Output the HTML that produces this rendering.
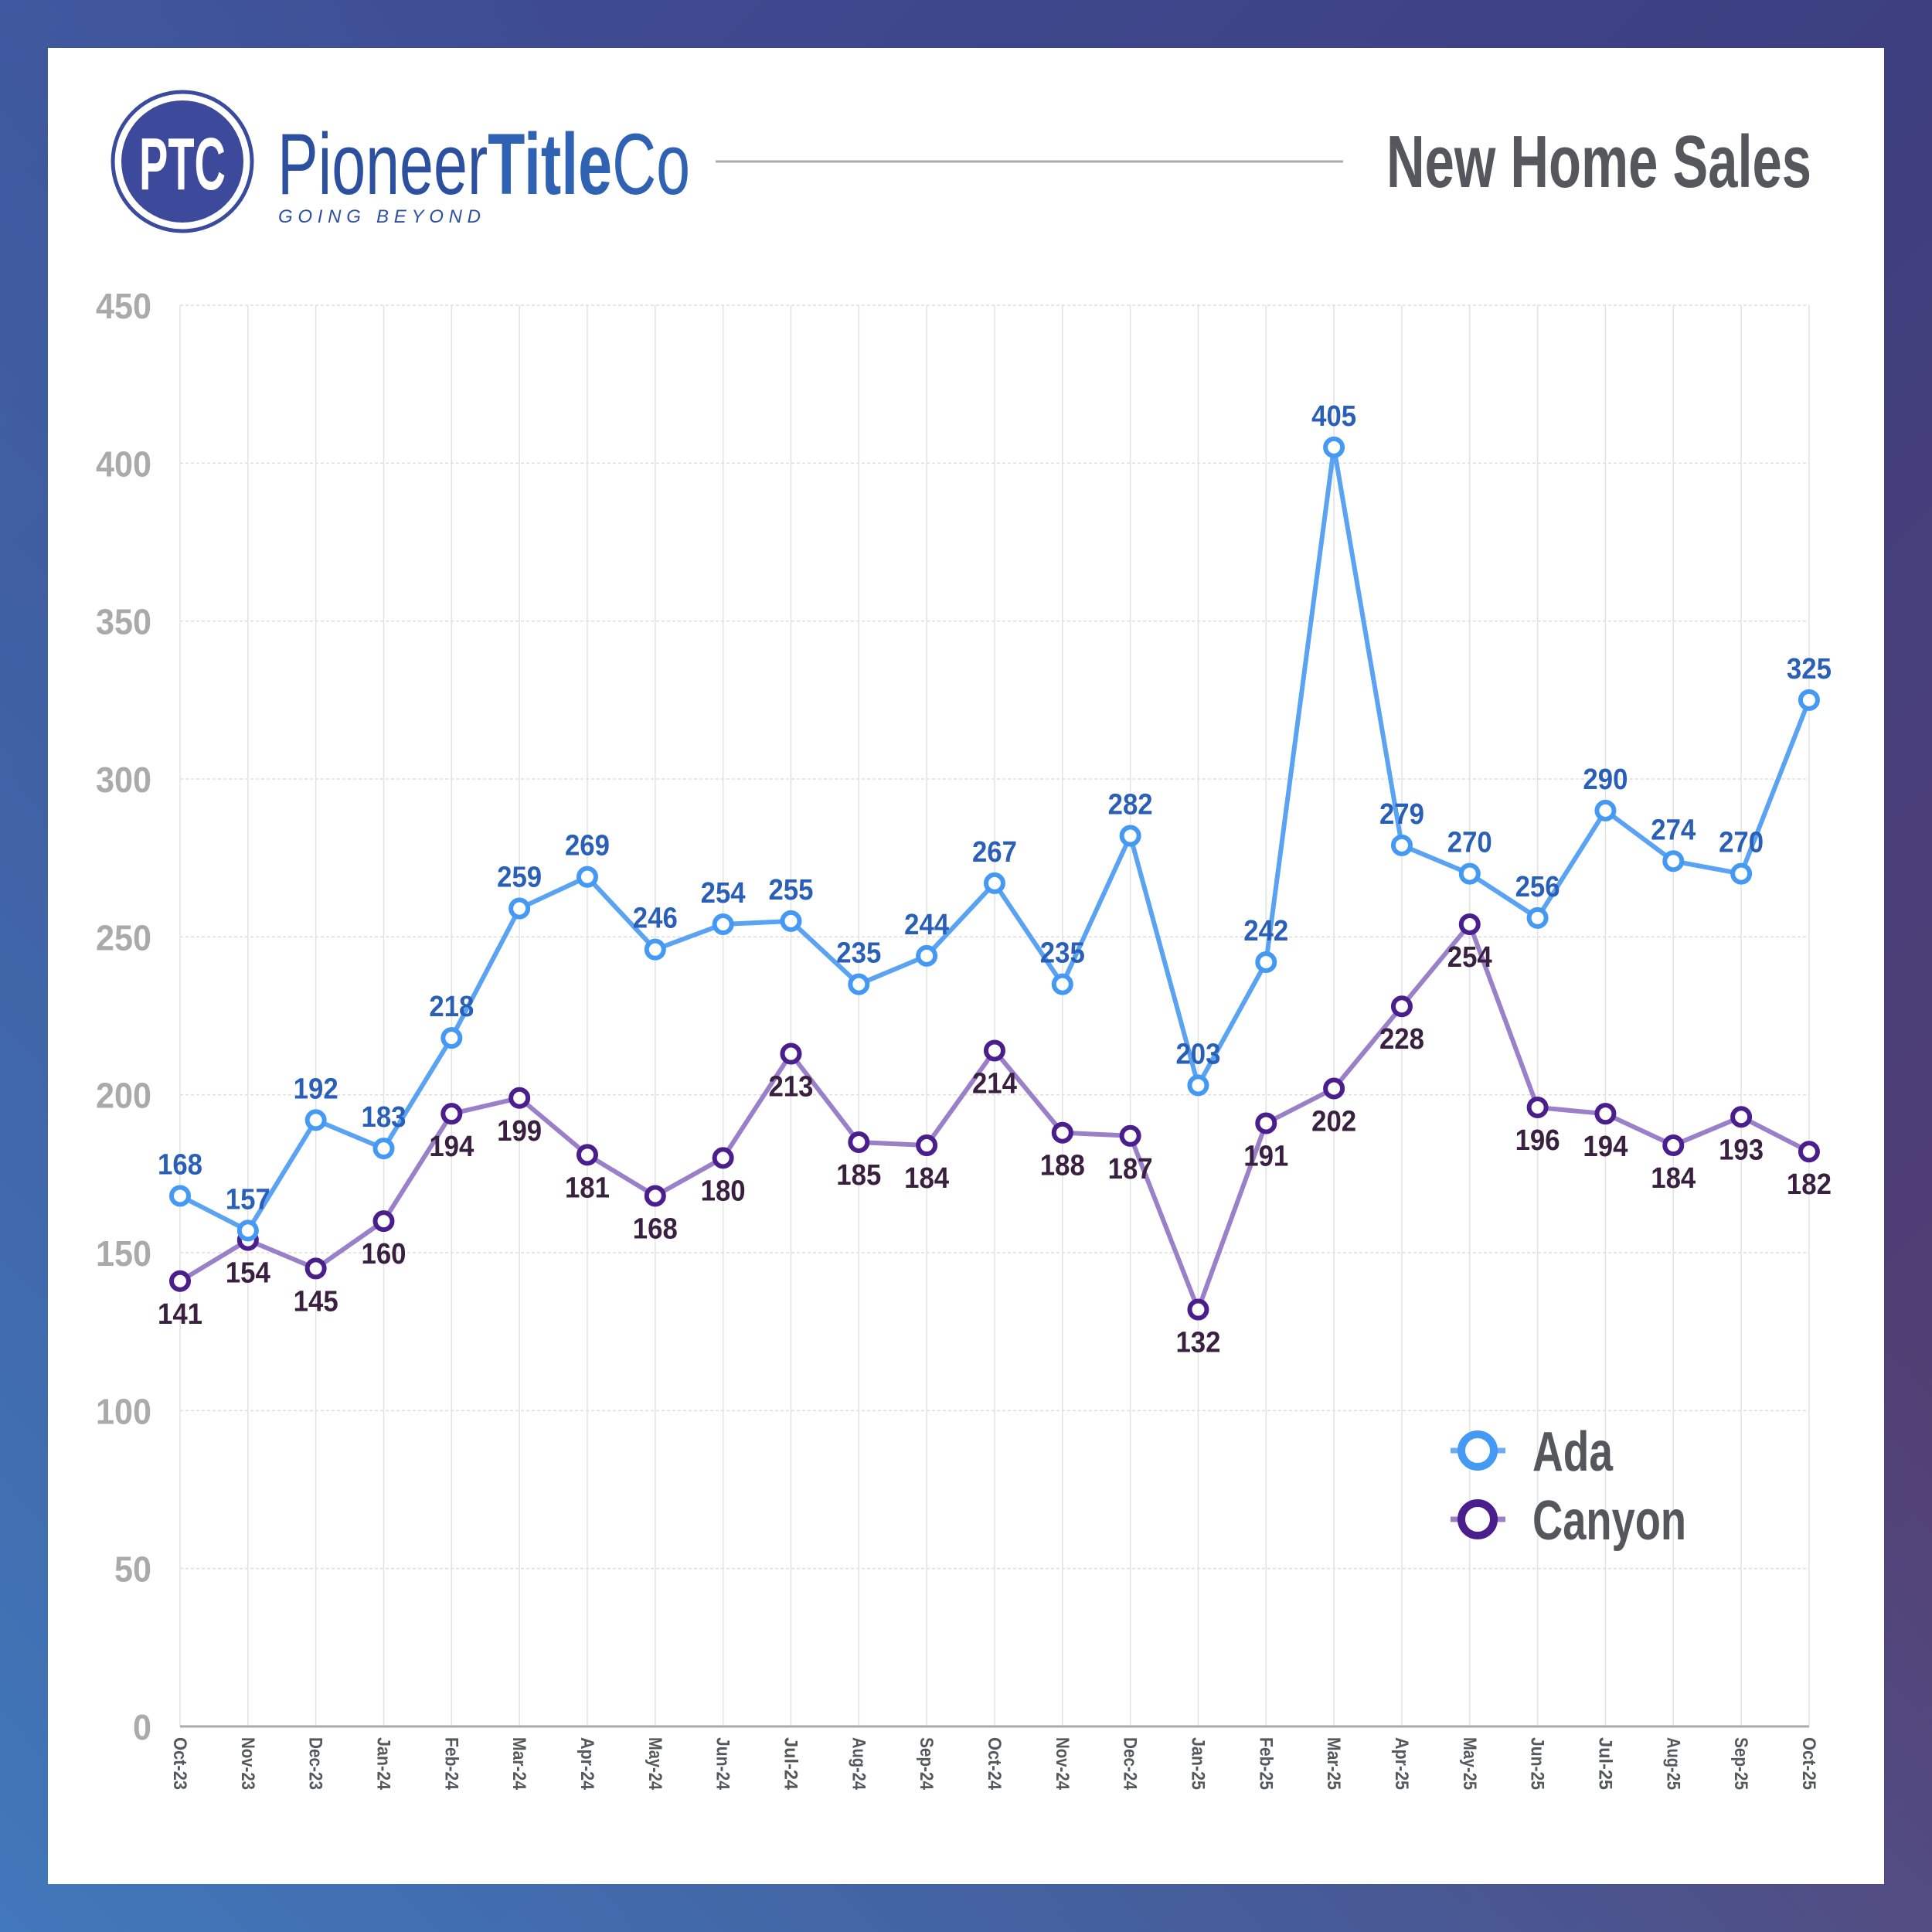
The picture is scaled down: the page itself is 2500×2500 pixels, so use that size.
<!DOCTYPE html>
<html><head><meta charset="utf-8"><style>
html,body{margin:0;padding:0;width:2500px;height:2500px;overflow:hidden}
body{background:linear-gradient(135deg,#3f4f98 0%,#3d3f80 50%,#5a3e6e 100%)}
#bg2{position:absolute;left:0;top:0;width:2500px;height:2500px;background:linear-gradient(45deg,#4178bb 0%,rgba(64,110,175,0.6) 35%,rgba(60,60,120,0) 65%)}
svg{position:absolute;left:0;top:0}
</style></head><body><div id="bg2"></div>
<svg id="s" width="2500" height="2500" xmlns="http://www.w3.org/2000/svg" font-family="'Liberation Sans',sans-serif">
<rect x="62" y="62" width="2376" height="2376" fill="#fff"/>
<circle cx="236" cy="209" r="90" fill="none" stroke="#3a4a9c" stroke-width="5"/>
<circle cx="236" cy="209" r="79" fill="#3d4a9c"/>
<text x="180" y="245" font-size="96" font-weight="bold" fill="#fff" textLength="112" lengthAdjust="spacingAndGlyphs">PTC</text>
<text x="359" y="251" font-size="112" fill="#2c4fa0" textLength="534" lengthAdjust="spacingAndGlyphs">Pioneer<tspan font-weight="bold" fill="#2f62b2">Title</tspan><tspan fill="#2f62b2">Co</tspan></text>
<text x="360" y="288" font-size="24" font-style="italic" fill="#2c4fa0" textLength="262" lengthAdjust="spacing">GOING BEYOND</text>
<line x1="926" y1="209" x2="1738" y2="209" stroke="#aaa" stroke-width="3"/>
<text x="1794" y="242" font-size="96" font-weight="bold" fill="#55575c" textLength="550" lengthAdjust="spacingAndGlyphs">New Home Sales</text>
<g id="g"></g>
</svg>
<script>
const ada=[168,157,192,183,218,259,269,246,254,255,235,244,267,235,282,203,242,405,279,270,256,290,274,270,325];
const can=[141,154,145,160,194,199,181,168,180,213,185,184,214,188,187,132,191,202,228,254,196,194,184,193,182];
const mon=["Oct-23","Nov-23","Dec-23","Jan-24","Feb-24","Mar-24","Apr-24","May-24","Jun-24","Jul-24","Aug-24","Sep-24","Oct-24","Nov-24","Dec-24","Jan-25","Feb-25","Mar-25","Apr-25","May-25","Jun-25","Jul-25","Aug-25","Sep-25","Oct-25"];
const X=i=>233+i*87.83, Y=v=>2234-v*(2234-395)/450;
let h="";
for(let k=1;k<=9;k++){const y=Y(k*50);h+=`<line x1="233" y1="${y}" x2="2341" y2="${y}" stroke="#ddd" stroke-width="1.5" stroke-dasharray="4,3"/>`;}
for(let i=0;i<25;i++){h+=`<line x1="${X(i)}" y1="395" x2="${X(i)}" y2="2234" stroke="#e2e2e2" stroke-width="1.5"/>`;
h+=`<text transform="translate(${X(i)-8},2248) rotate(90)" font-size="24" font-weight="bold" fill="#55575c" textLength="68" lengthAdjust="spacingAndGlyphs">${mon[i]}</text>`;}
h+=`<line x1="233" y1="2234" x2="2341" y2="2234" stroke="#aaa" stroke-width="3"/>`;
for(let k=0;k<=9;k++){const t=String(k*50);h+=`<text x="196" y="${Y(k*50)+17}" font-size="46" font-weight="bold" fill="#aaa" text-anchor="end" textLength="${t.length*24}" lengthAdjust="spacingAndGlyphs">${t}</text>`;}
function series(d,lc,mc,tc,off){
 h+=`<polyline fill="none" stroke="${lc}" stroke-width="6" stroke-linejoin="round" points="${d.map((v,i)=>X(i)+","+Y(v)).join(" ")}"/>`;
 d.forEach((v,i)=>{h+=`<circle cx="${X(i)}" cy="${Y(v)}" r="11" fill="#fff" stroke="${mc}" stroke-width="6"/>`;});
 d.forEach((v,i)=>{h+=`<text x="${X(i)}" y="${Y(v)+off}" font-size="38" font-weight="bold" fill="${tc}" text-anchor="middle" textLength="58" lengthAdjust="spacingAndGlyphs">${v}</text>`;});
}
series(can,"#9a80c8","#4a1e8c","#3a2040",55);
series(ada,"#5aa2f2","#4499f5","#2a5fb8",-28);
h+=`<line x1="1877" y1="1877" x2="1948" y2="1877" stroke="#6aabf5" stroke-width="7"/><circle cx="1912" cy="1877" r="21" fill="#fff" stroke="#4499f5" stroke-width="10"/>`;
h+=`<line x1="1877" y1="1966" x2="1948" y2="1966" stroke="#9a80c8" stroke-width="7"/><circle cx="1912" cy="1966" r="21" fill="#fff" stroke="#4a1e8c" stroke-width="10"/>`;
h+=`<text x="1983" y="1903" font-size="72" font-weight="bold" fill="#55575c" textLength="104" lengthAdjust="spacingAndGlyphs">Ada</text>`;
h+=`<text x="1983" y="1992" font-size="72" font-weight="bold" fill="#55575c" textLength="199" lengthAdjust="spacingAndGlyphs">Canyon</text>`;
document.getElementById("g").innerHTML=h;
</script>
</body></html>
